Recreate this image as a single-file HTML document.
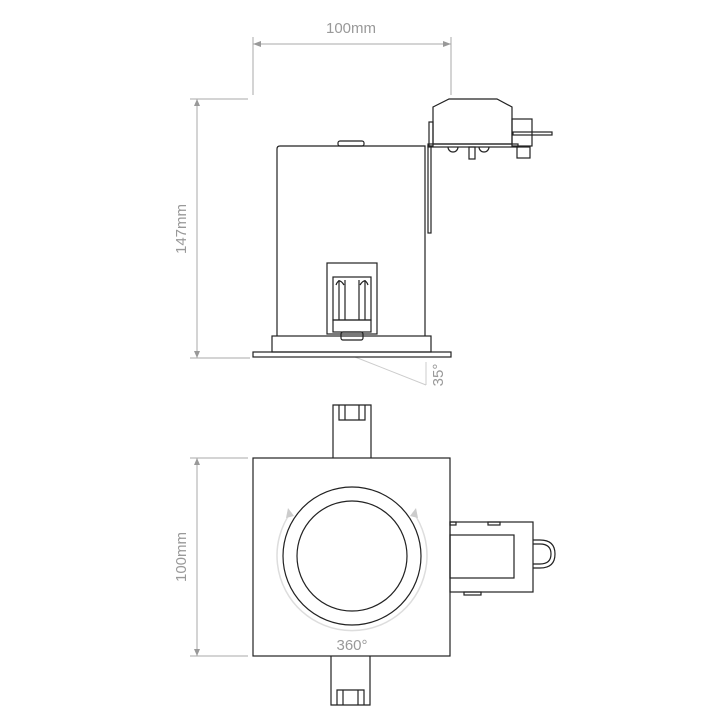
<!DOCTYPE html>
<html><head><style>html,body{margin:0;padding:0;background:#fff}svg{display:block}</style></head><body>
<svg width="720" height="720" viewBox="0 0 720 720" xmlns="http://www.w3.org/2000/svg">
<g stroke="#aaa" stroke-width="1" fill="none">
<line x1="253" y1="37" x2="253" y2="95"/><line x1="451" y1="37" x2="451" y2="95"/>
<line x1="253" y1="44" x2="451" y2="44"/>
<line x1="190" y1="99" x2="248" y2="99"/><line x1="190" y1="358" x2="250" y2="358"/>
<line x1="197" y1="99" x2="197" y2="358"/>
<line x1="190" y1="458" x2="248" y2="458"/><line x1="190" y1="656" x2="248" y2="656"/>
<line x1="197" y1="458" x2="197" y2="656"/>
<line x1="355" y1="357" x2="426" y2="385" stroke="#ccc"/>
<line x1="426" y1="362" x2="426" y2="385" stroke="#ccc"/>
<path d="M291 512 A75 75 0 1 0 413 512" stroke="#ddd" stroke-width="1.5"/>
</g>
<g fill="#999">
<polygon points="253,44 261,41 261,47"/><polygon points="451,44 443,41 443,47"/>
<polygon points="197,99 194,106 200,106"/><polygon points="197,358 194,351 200,351"/>
<polygon points="197,458 194,465 200,465"/><polygon points="197,656 194,649 200,649"/>
<polygon points="288,508 286,518 294,516" fill="#ccc"/><polygon points="416,508 418,518 410,516" fill="#ccc"/>
</g>
<g font-family="Liberation Sans, sans-serif" font-size="15" fill="#999" text-anchor="middle">
<text x="351" y="33">100mm</text>
<text transform="translate(186,229) rotate(-90)">147mm</text>
<text transform="translate(186,557) rotate(-90)">100mm</text>
<text transform="translate(443,375) rotate(-90)">35°</text>
<text x="352" y="650">360°</text>
</g>
<g stroke="#222" stroke-width="1.2" fill="none">
<path d="M277 336 V149 Q277 146 280 146 H425 V336"/>
<rect x="338" y="141" width="26" height="5" rx="2"/>
<rect x="272" y="336" width="159" height="16"/>
<rect x="253" y="352" width="198" height="5"/>
<rect x="327" y="263" width="50" height="71"/>
<rect x="333" y="277" width="38" height="43"/>
<rect x="333" y="320" width="38" height="12"/>
<rect x="341" y="332" width="22" height="8" rx="2"/>
<line x1="339" y1="280" x2="339" y2="320"/><line x1="365" y1="280" x2="365" y2="320"/>
<line x1="345" y1="280" x2="345" y2="320"/><line x1="359" y1="280" x2="359" y2="320"/>
<path d="M336 285 Q339 277 344 285 M360 285 Q365 277 368 285"/>
<rect x="428" y="146" width="3" height="87"/>
<rect x="429" y="122" width="4" height="24"/>
<path d="M433 107 L449 99 H497 L512 107 V144 H433 Z"/>
<rect x="428" y="144" width="90" height="3"/>
<rect x="512" y="119" width="20" height="27"/>
<rect x="517" y="147" width="13" height="11"/>
<rect x="513" y="132" width="39" height="3"/>
<path d="M448 147 A5 5 0 0 0 458 147 M479 147 A5 5 0 0 0 489 147"/>
<rect x="469" y="147" width="6" height="12"/>
<rect x="253" y="458" width="197" height="198"/>
<circle cx="352" cy="556" r="69"/>
<circle cx="352" cy="556" r="55"/>
<path d="M333 458 V405 H371 V458"/>
<path d="M339 405 V420 H365 V405 M345 420 V405 M359 420 V405"/>
<path d="M331 656 V705 H370 V656"/>
<path d="M337 705 V690 H364 V705 M343 690 V705 M358 690 V705"/>
<rect x="450" y="522" width="83" height="70"/>
<rect x="450" y="535" width="64" height="43"/>
<rect x="450" y="522" width="6" height="3"/><rect x="488" y="522" width="12" height="3"/>
<rect x="464" y="592" width="17" height="3"/>
<path d="M533 540 H540 Q555 540 555 554 Q555 568 540 568 H533"/>
<path d="M533 544 H540 Q551 544 551 554 Q551 564 540 564 H533"/>
</g>
</svg>
</body></html>
